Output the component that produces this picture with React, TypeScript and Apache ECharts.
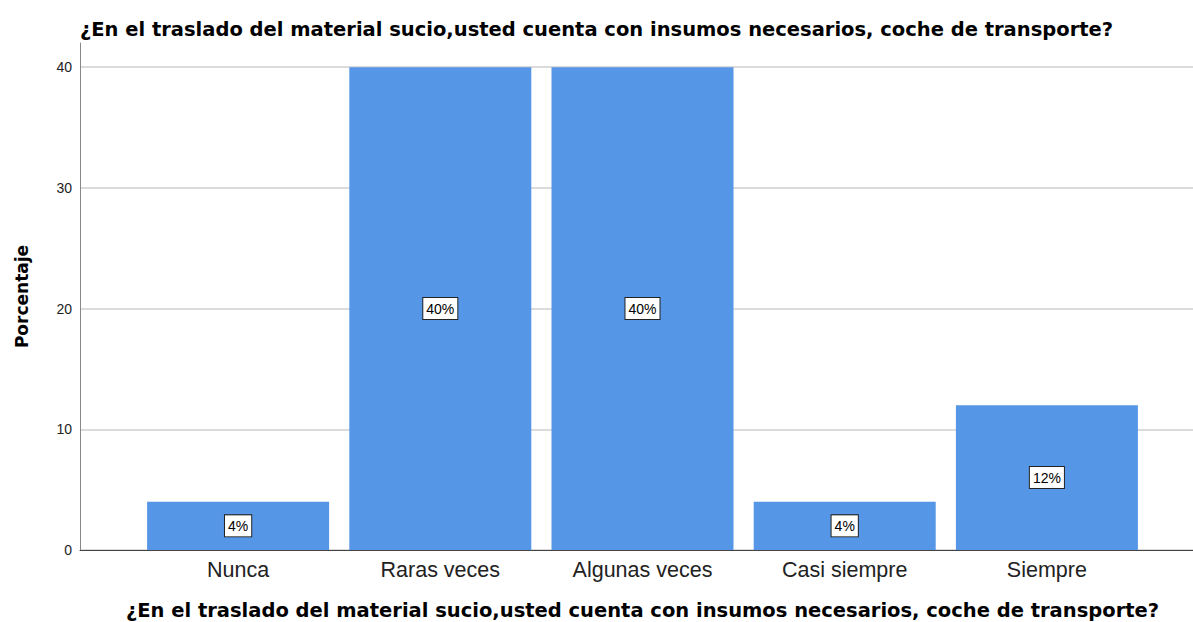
import React, { useEffect, useRef } from "react";
import * as echarts from "echarts";

const title =
  "¿En el traslado del material sucio,usted cuenta con insumos necesarios, coche de transporte?";
const categories = ["Nunca", "Raras veces", "Algunas veces", "Casi siempre", "Siempre"];
const percentages = [4, 40, 40, 4, 12];
const yTicks = [0, 10, 20, 30, 40];
const yAxisName = "Porcentaje";

export default function App() {
  const ref = useRef<HTMLDivElement>(null);
  useEffect(() => {
    if (!ref.current) return;
    const chart = echarts.init(ref.current, null, { renderer: "svg" });
    const font = "'Liberation Sans', Arial, sans-serif";
    const wide = "'DejaVu Sans', Verdana, sans-serif";
    chart.setOption({
      animation: false,
      backgroundColor: "#ffffff",
      textStyle: { fontFamily: font },
      title: {
        text: title,
        left: "center",
        top: 14,
        textStyle: { fontFamily: wide, fontSize: 19.5, fontWeight: "bold", color: "#000" },
      },
      grid: [
        { left: 80, right: 0, top: 43, bottom: 72, outerBoundsMode: "none", containLabel: false },
        { left: 137, right: 45, top: 43, bottom: 72, outerBoundsMode: "none", containLabel: false },
      ],
      xAxis: [
        {
          type: "category",
          gridIndex: 0,
          data: [""],
          axisLine: { show: true, lineStyle: { color: "#444", width: 1 } },
          axisTick: { show: false },
          axisLabel: { show: false },
          splitLine: { show: false },
        },
        {
          type: "category",
          gridIndex: 1,
          data: categories,
          axisLine: { show: false },
          axisTick: { show: false },
          axisLabel: { fontFamily: font, fontSize: 21.5, color: "#222", margin: 9 },
          name: title,
          nameLocation: "middle",
          nameGap: 50,
          nameTextStyle: { fontFamily: wide, fontSize: 19.5, fontWeight: "bold", color: "#000" },
        },
      ],
      yAxis: [
        {
          type: "value",
          gridIndex: 0,
          min: 0,
          max: 42,
          interval: 10,
          axisLine: { show: true, lineStyle: { color: "#888", width: 1 } },
          axisTick: { show: false },
          axisLabel: {
            fontFamily: font,
            fontSize: 14,
            color: "#222",
            margin: 8,
            showMaxLabel: false,
            formatter: (v: number) => (yTicks.includes(v) ? String(v) : ""),
          },
          splitLine: { show: true, showMaxLine: false, lineStyle: { color: "#cfcfcf", width: 1.5 } },
          name: yAxisName,
          nameLocation: "middle",
          nameGap: 50,
          nameTextStyle: { fontFamily: wide, fontSize: 17, fontWeight: "bold", color: "#000" },
        },
        {
          type: "value",
          gridIndex: 1,
          min: 0,
          max: 42,
          interval: 10,
          show: false,
        },
      ],
      series: [
        {
          type: "bar",
          xAxisIndex: 1,
          yAxisIndex: 1,
          data: percentages,
          barWidth: 182,
          itemStyle: { color: "#5596e6" },
          label: {
            show: true,
            position: "inside",
            formatter: (p: any) => `${p.value}%`,
            fontFamily: font,
            fontSize: 14,
            color: "#000",
            backgroundColor: "#fff",
            borderColor: "#222",
            borderWidth: 1,
            padding: [4, 3, 3, 3],
          },
        },
      ],
    });
    return () => chart.dispose();
  }, []);
  return (
    <div
      ref={ref}
      style={{ position: "absolute", left: 0, top: 0, width: 1193, height: 622 }}
    />
  );
}
